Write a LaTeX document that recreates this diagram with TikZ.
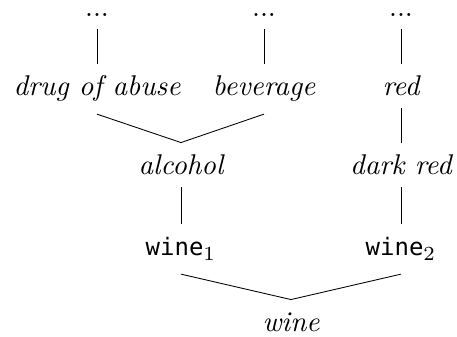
\documentclass[tikz,border=0pt]{standalone}
\usepackage{fontspec}
\setmonofont{DejaVu Sans Mono}[Scale=0.84]
\usepackage{tikz}
\usetikzlibrary{positioning}

\tikzset{
  word/.style={anchor=base, font=\itshape, inner sep=2pt, text height=9.2pt, text depth=2.2pt},
  sense/.style={word, font=\ttfamily},
  more/.style={word, font=\upshape, text height=2pt},
}

\begin{document}
\begin{tikzpicture}[x=0.35pt, y=-0.35pt, line width=0.3pt]
%\draw [help lines, step=10pt](0,0) grid (457,337);
\useasboundingbox (0,0) rectangle (457,337);

\node [more] (dotsA) at (97,16.5) {.{}.{}.};
\node [more] (dotsB) at (264,16.5) {.{}.{}.};
\node [more] (dotsC) at (401,16.5) {.{}.{}.};

\node [word] (drug) at (97,96) {drug of abuse};
\node [word] (beverage) at (264,96) {beverage};
\node [word] (red) at (401,96) {red};

\node [word] (alcohol) at (181,175) {alcohol};
\node [word] (darkred) at (401,175) {dark red};

\node [sense] (wineA) at (181,256) {wine$_1$};
\node [sense] (wineB) at (401,256) {wine$_2$};

\node [word] (wine) at (291,332) {wine};

% upward links
\draw (dotsA.south) -- (drug.north);
\draw (dotsB.south) -- (beverage.north);
\draw (dotsC.south) -- (red.north);
\draw (red.south) -- (darkred.north);
\draw (alcohol.south) -- (wineA.north);
\draw (darkred.south) -- (wineB.north);

% joins
\draw ([yshift=-2pt]drug.south) -- (alcohol.north) -- ([yshift=-2pt]beverage.south);
\draw ([yshift=-2pt]wineA.south) -- (wine.north) -- ([yshift=-2pt]wineB.south);
\end{tikzpicture}
\end{document}
